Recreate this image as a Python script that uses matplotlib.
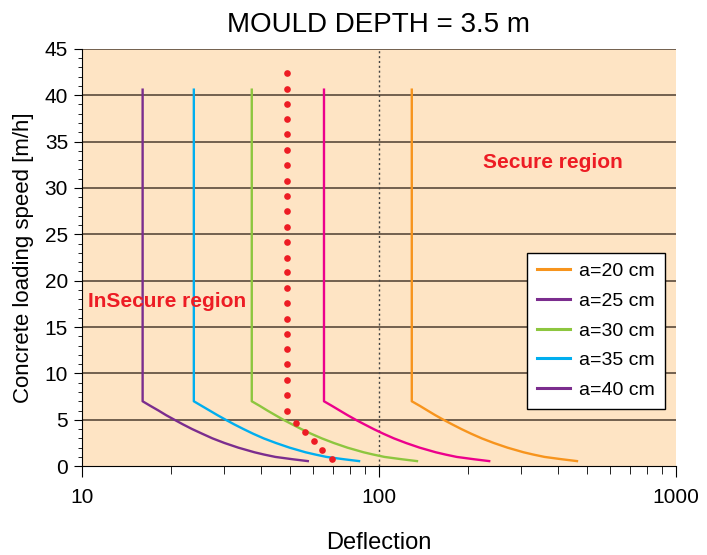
import matplotlib.pyplot as plt
from matplotlib.lines import Line2D
from matplotlib.ticker import MultipleLocator

plt.rcParams['font.family'] = ['Liberation Sans', 'DejaVu Sans']

# loading speed values along each curve (top of vertical part, then knee and curve)
speed = [40.6, 7, 6.5, 6, 5.5, 5, 4.5, 4, 3.5, 3, 2.5, 2, 1.5, 1.25, 1, 0.75, 0.55]

# deflection for each a
defl_20 = [129, 129, 137.4, 145.8, 154.8, 165.1, 176.7, 189.6, 204.5, 221.9,
           243.8, 270.9, 307.0, 331.5, 361.2, 412.8, 464.4]
defl_25 = [65.3, 65.3, 69.5, 73.8, 78.4, 83.6, 89.5, 96.0, 103.5, 112.3,
           123.4, 137.1, 155.4, 167.8, 182.8, 209.0, 235.1]
defl_30 = [37.3, 37.3, 39.7, 42.1, 44.8, 47.7, 51.1, 54.8, 59.1, 64.2,
           70.5, 78.3, 88.8, 95.9, 104.4, 119.4, 134.3]
defl_35 = [23.8, 23.8, 25.3, 26.9, 28.6, 30.5, 32.6, 35.0, 37.7, 40.9,
           45.0, 50.0, 56.6, 61.2, 66.6, 76.2, 85.7]
defl_40 = [16.0, 16.0, 17.0, 18.1, 19.2, 20.5, 21.9, 23.5, 25.4, 27.5,
           30.2, 33.6, 38.1, 41.1, 44.8, 51.2, 57.6]

labels = ['a=20 cm', 'a=25 cm', 'a=30 cm', 'a=35 cm', 'a=40 cm']
line_colors = ['#F7941D', '#EC008C', '#8DC63F', '#00AEEF', '#7B2D8E']
legend_colors = ['#F7941D', '#7B2D8E', '#8DC63F', '#00AEEF', '#7B2D8E']

# red limit line (dots)
limit_x = [49.2, 49.2, 49.2, 49.2, 49.2, 49.2, 49.2, 49.2, 49.2, 49.2, 49.2, 49.2,
           49.2, 49.2, 49.2, 49.2, 49.2, 49.2, 49.2, 49.2, 49.2, 49.2, 49.2,
           52.4, 56.4, 60.3, 64.4, 69.3]
limit_y = [42.4, 40.7, 39.1, 37.4, 35.8, 34.1, 32.5, 30.8, 29.1, 27.5, 25.8, 24.2,
           22.5, 20.9, 19.2, 17.6, 15.9, 14.3, 12.6, 11.0, 9.3, 7.7, 6.0,
           4.7, 3.7, 2.7, 1.8, 0.8]

fig = plt.figure(figsize=(7.07, 5.55), dpi=100)
ax = fig.add_axes([0.116, 0.160, 0.840, 0.752])
ax.set_facecolor('#FEE4C4')

ax.set_xscale('log')
ax.set_xlim(10, 1000)
ax.set_ylim(0, 45)

for y in range(5, 46, 5):
    ax.axhline(y, color='#5a4a3a', lw=1.2, zorder=1)
ax.axvline(100, color='#444444', lw=1.0, ls=(0, (1.5, 2)), zorder=1)

for xs, c in zip([defl_20, defl_25, defl_30, defl_35, defl_40], line_colors):
    ax.plot(xs, speed, color=c, lw=1.7, zorder=3)

ax.plot(limit_x, limit_y, 'o', color='#ED1C24', ms=4.8, mec='none', zorder=4)

ax.text(224, 32.7, 'Secure region', color='#ED1C24', fontsize=15,
        fontweight='bold', va='center')
ax.text(10.5, 17.8, 'InSecure region', color='#ED1C24', fontsize=15,
        fontweight='bold', va='center')

handles = [Line2D([], [], color=c, lw=2.2) for c in legend_colors]
leg = ax.legend(handles, labels, loc='upper left', bbox_to_anchor=(0.749, 0.511),
                fontsize=14, fancybox=False, framealpha=1, edgecolor='black',
                handlelength=1.7, handletextpad=0.5, borderpad=0.5,
                labelspacing=0.62, borderaxespad=0)
leg.get_frame().set_linewidth(1.0)

ax.spines['top'].set_visible(False)
ax.spines['right'].set_visible(False)
ax.yaxis.set_major_locator(MultipleLocator(5))
ax.yaxis.set_minor_locator(MultipleLocator(1))
ax.set_xticks([10, 100, 1000])
ax.set_xticklabels(['10', '100', '1000'])
ax.tick_params(axis='both', which='major', direction='out', labelsize=15)
ax.tick_params(axis='x', which='major', length=8, pad=8)
ax.tick_params(axis='x', which='minor', length=6)
ax.tick_params(axis='y', which='major', length=6, pad=4)
ax.tick_params(axis='y', which='minor', length=3)

ax.set_title('MOULD DEPTH = 3.5 m', fontsize=20, pad=12)
ax.set_xlabel('Deflection', fontsize=17, labelpad=18)
ax.set_ylabel('Concrete loading speed [m/h]', fontsize=16, labelpad=8)

fig.savefig('out.png', dpi=100)
